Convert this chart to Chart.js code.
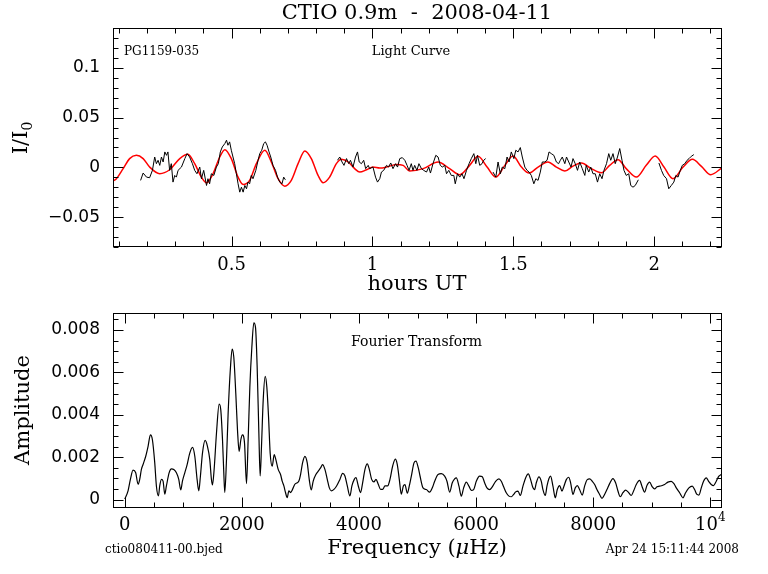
<!DOCTYPE html>
<html>
<head>
<meta charset="utf-8">
<script src="https://cdn.jsdelivr.net/npm/chart.js@4"></script>
<style>
  body { margin: 0; background: #fff; }
  canvas { position: absolute; left: 0; }
</style>
</head>
<body>
<canvas id="lightCurve" width="768" height="290" style="top:0"></canvas>
<canvas id="fourier" width="768" height="284" style="top:290px"></canvas>
<script>
// light curve (hours UT, I/I0); null = gap in the run
const lcHours = [0.177,0.186,0.198,0.209,0.219,0.227,0.233,0.239,0.245,0.251,0.257,0.263,0.269,0.274,0.280,0.286,0.292,0.298,0.304,0.310,0.322,0.334,0.342,0.351,0.361,0.369,0.377,0.387,0.393,0.401,0.411,0.416,0.422,0.428,0.437,0.446,0.453,0.460,0.467,0.476,0.482,0.487,0.493,0.499,0.505,0.511,0.517,0.523,0.529,0.535,0.541,0.547,0.553,0.558,0.564,0.570,0.576,0.586,0.594,0.600,0.607,0.614,0.620,0.626,0.633,0.639,0.647,0.656,0.663,0.671,0.679,0.685,0.691,
  0.78,
  0.876,0.884,0.892,0.899,0.908,0.916,0.922,0.931,0.940,0.947,0.953,0.961,0.969,0.976,0.985,0.990,1.002,1.011,1.018,1.026,1.032,1.040,1.050,1.057,1.065,1.073,1.082,1.089,1.097,1.106,1.115,1.123,1.130,1.138,1.144,1.150,1.158,1.165,1.174,1.182,1.192,1.200,1.206,1.215,1.225,1.233,1.241,1.248,1.257,1.263,1.271,1.280,1.289,1.294,1.302,1.310,1.318,1.325,1.334,1.343,1.351,1.360,1.367,1.373,1.381,1.389,1.395,1.402,
  1.415,
  1.428,1.438,1.446,1.454,1.461,1.470,1.478,1.485,1.493,1.502,1.509,1.517,1.525,1.532,1.541,1.549,1.556,1.564,1.573,1.580,1.588,1.596,1.603,1.612,1.620,1.627,1.635,1.644,1.653,1.661,1.667,1.674,1.683,1.689,1.697,1.705,1.712,1.720,1.728,1.736,1.745,1.754,1.759,1.768,1.775,1.783,1.791,1.799,1.807,1.815,1.822,1.831,1.839,1.846,1.854,1.862,1.870,1.878,1.886,1.893,1.901,1.910,1.917,1.925,1.933,1.944,
  1.98,
  2.017,2.026,2.034,2.044,2.052,2.061,2.070,2.077,2.085,2.093,2.100,2.109,2.117,2.124,2.132,2.141];
const lcFlux = [-0.0131,-0.0057,-0.0098,-0.0104,-0.0030,0.0104,0.0037,0.0071,0.0020,0.0104,0.0054,0.0155,0.0121,0.0155,-0.0030,0.0037,-0.0148,-0.0081,-0.0098,-0.0030,0.0003,0.0088,0.0138,0.0104,0.0037,-0.0030,-0.0064,0.0003,-0.0114,-0.0030,-0.0182,-0.0114,-0.0165,-0.0064,-0.0081,0.0003,0.0037,0.0155,0.0205,0.0239,0.0273,0.0222,0.0256,0.0172,0.0104,0.0037,-0.0064,-0.0165,-0.0249,-0.0199,-0.0249,-0.0182,-0.0215,-0.0148,-0.0165,-0.0081,-0.0114,-0.0030,0.0071,0.0138,0.0172,0.0239,0.0256,0.0222,0.0155,0.0104,0.0020,-0.0030,-0.0098,-0.0148,-0.0165,-0.0098,-0.0125,
  null,
  0.0071,0.0104,0.0054,0.0020,0.0088,0.0037,0.0071,0.0003,0.0104,0.0155,0.0054,0.0037,0.0071,-0.0013,0.0020,-0.0013,0.0003,-0.0098,-0.0148,-0.0114,-0.0047,-0.0030,0.0020,0.0003,0.0044,-0.0013,0.0037,0.0003,0.0088,0.0098,0.0071,0.0020,-0.0030,0.0037,-0.0030,0.0020,-0.0030,0.0037,-0.0013,-0.0030,-0.0047,0.0003,-0.0057,0.0037,0.0121,0.0104,0.0020,0.0003,0.0020,-0.0064,-0.0030,-0.0081,-0.0081,-0.0165,-0.0064,-0.0098,-0.0064,-0.0114,-0.0030,0.0037,0.0088,0.0138,0.0037,0.0121,0.0020,0.0037,0.0071,0.0088,
  null,
  -0.0047,-0.0098,0.0054,-0.0064,0.0003,-0.0013,0.0104,0.0054,0.0155,0.0088,0.0172,0.0155,0.0199,0.0104,0.0003,-0.0030,-0.0047,-0.0081,-0.0165,-0.0114,-0.0131,-0.0047,0.0054,0.0054,0.0071,0.0155,0.0138,0.0121,0.0054,0.0037,0.0071,0.0104,0.0037,0.0104,0.0054,0.0003,0.0088,0.0037,-0.0030,0.0054,-0.0013,-0.0081,0.0020,-0.0047,0.0003,-0.0064,-0.0064,-0.0148,-0.0064,-0.0114,-0.0030,0.0037,0.0138,0.0071,0.0138,0.0037,0.0104,0.0189,0.0071,-0.0030,-0.0081,-0.0064,-0.0182,-0.0199,-0.0182,-0.0125,
  null,
  0.0044,-0.0030,-0.0081,-0.0114,-0.0215,-0.0182,-0.0148,-0.0081,-0.0098,-0.0030,0.0020,0.0037,0.0071,0.0088,0.0111,0.0128];

// multi-sine fit (red)
const fitHours = [0.079,0.091,0.115,0.138,0.162,0.186,0.209,0.245,0.280,0.316,0.345,0.369,0.393,0.411,0.434,0.458,0.476,0.499,0.523,0.541,0.564,0.588,0.618,0.641,0.665,0.689,0.712,0.736,0.760,0.783,0.807,0.825,0.848,0.872,0.890,0.914,0.937,0.955,0.979,1.002,1.026,1.050,1.085,1.109,1.132,1.180,1.233,1.274,1.310,1.345,1.375,1.407,1.438,1.470,1.499,1.529,1.556,1.588,1.623,1.653,1.683,1.712,1.742,1.777,1.813,1.842,1.872,1.901,1.937,1.972,2.004,2.035,2.067,2.103,2.136,2.168,2.201,2.240];
const fitFlux = [-0.0138,-0.0114,-0.0013,0.0088,0.0121,0.0088,0.0003,-0.0064,-0.0024,0.0088,0.0131,0.0037,-0.0098,-0.0155,-0.0064,0.0104,0.0178,0.0088,-0.0098,-0.0172,-0.0131,0.0037,0.0172,0.0054,-0.0114,-0.0189,-0.0131,0.0037,0.0165,0.0088,-0.0081,-0.0155,-0.0098,0.0037,0.0081,0.0054,-0.0013,-0.0047,-0.0024,0.0003,-0.0007,0.0003,0.0030,0.0020,-0.0037,-0.0013,0.0054,-0.0013,-0.0074,0.0020,0.0111,0.0003,-0.0098,0.0020,0.0114,0.0003,-0.0057,0.0003,0.0054,0.0003,-0.0037,0.0013,0.0044,-0.0013,-0.0054,0.0020,0.0077,-0.0013,-0.0098,0.0020,0.0114,0.0003,-0.0114,0.0003,0.0081,0.0010,-0.0074,-0.0007];

// amplitude spectrum
const ftFreq = [0,57,97,142,188,228,256,285,313,359,399,439,473,513,541,576,598,627,655,684,712,758,798,838,883,923,957,986,1026,1066,1111,1157,1197,1236,1265,1293,1328,1373,1413,1453,1481,1499,1527,1567,1613,1641,1670,1692,1709,1738,1766,1806,1835,1863,1897,1926,1954,1983,2011,2046,2080,2108,2137,2171,2205,2234,2262,2291,2313,2336,2365,2399,2427,2456,2484,2519,2553,2581,2621,2661,2689,2718,2746,2775,2803,2832,2866,2906,2946,2974,3003,3037,3077,3117,3151,3185,3219,3265,3305,3345,3379,3419,3459,3493,3527,3573,3618,3675,3721,3761,3801,3846,3880,3920,3949,3989,4028,4063,4103,4142,4177,4217,4256,4291,4330,4370,4405,4444,4490,4530,4575,4621,4655,4689,4724,4758,4786,4826,4860,4900,4940,4974,5014,5043,5094,5151,5207,5253,5293,5350,5407,5464,5503,5549,5594,5634,5663,5708,5748,5788,5833,5879,5919,5959,6004,6061,6107,6146,6186,6232,6277,6334,6391,6431,6471,6516,6562,6602,6642,6676,6716,6755,6801,6846,6892,6932,6972,7000,7029,7074,7114,7142,7182,7211,7245,7273,7313,7353,7387,7427,7467,7501,7541,7581,7615,7655,7694,7729,7768,7814,7854,7899,7939,7985,8025,8064,8110,8150,8195,8235,8281,8337,8383,8423,8463,8508,8554,8599,8650,8690,8736,8793,8833,8878,8918,8964,9009,9049,9089,9134,9180,9219,9276,9333,9379,9419,9476,9533,9578,9635,9692,9732,9772,9806,9846,9885,9931,9971,10016,10056,10102,10147,10187];
const ftAmp = [0.00002,0.00041,0.00095,0.00139,0.00126,0.00072,0.00095,0.00142,0.00165,0.00204,0.00251,0.00305,0.00282,0.00173,0.00064,0.00017,0.00064,0.00095,0.00087,0.00025,0.00064,0.00126,0.00145,0.00142,0.00126,0.00095,0.00045,0.00087,0.00126,0.00165,0.00219,0.00246,0.00204,0.00095,0.00041,0.00111,0.00219,0.00279,0.00251,0.00188,0.00095,0.00069,0.00142,0.00313,0.00450,0.00422,0.00282,0.00126,0.00033,0.00188,0.00406,0.00624,0.00710,0.00671,0.00500,0.00328,0.00227,0.00282,0.00305,0.00266,0.00075,0.00282,0.00531,0.00718,0.00834,0.00811,0.00624,0.00313,0.00111,0.00251,0.00469,0.00581,0.00531,0.00391,0.00219,0.00157,0.00212,0.00188,0.00142,0.00118,0.00087,0.00064,0.00033,0.00009,0.00041,0.00033,0.00048,0.00072,0.00079,0.00087,0.00118,0.00173,0.00204,0.00173,0.00095,0.00045,0.00087,0.00118,0.00134,0.00149,0.00165,0.00142,0.00095,0.00056,0.00041,0.00048,0.00064,0.00095,0.00123,0.00111,0.00064,0.00017,0.00064,0.00095,0.00103,0.00064,0.00033,0.00079,0.00142,0.00168,0.00142,0.00095,0.00083,0.00095,0.00072,0.00048,0.00048,0.00064,0.00064,0.00095,0.00157,0.00191,0.00165,0.00095,0.00025,0.00064,0.00070,0.00030,0.00064,0.00118,0.00173,0.00181,0.00149,0.00111,0.00055,0.00047,0.00035,0.00055,0.00086,0.00118,0.00122,0.00110,0.00086,0.00035,0.00079,0.00097,0.00102,0.00063,0.00016,0.00055,0.00082,0.00063,0.00043,0.00047,0.00086,0.00110,0.00107,0.00079,0.00055,0.00047,0.00060,0.00086,0.00097,0.00086,0.00060,0.00032,0.00016,0.00013,0.00024,0.00036,0.00040,0.00019,0.00063,0.00102,0.00121,0.00094,0.00055,0.00047,0.00079,0.00107,0.00086,0.00047,0.00019,0.00063,0.00099,0.00110,0.00063,0.00008,0.00047,0.00066,0.00040,0.00063,0.00094,0.00105,0.00079,0.00024,0.00055,0.00066,0.00047,0.00021,0.00063,0.00094,0.00097,0.00086,0.00071,0.00047,0.00024,0.00005,0.00024,0.00047,0.00075,0.00099,0.00079,0.00040,0.00013,0.00032,0.00044,0.00035,0.00019,0.00040,0.00071,0.00090,0.00063,0.00035,0.00066,0.00082,0.00060,0.00050,0.00060,0.00063,0.00066,0.00071,0.00082,0.00086,0.00075,0.00055,0.00032,0.00008,0.00032,0.00055,0.00063,0.00047,0.00024,0.00021,0.00055,0.00086,0.00102,0.00086,0.00071,0.00066,0.00086,0.00110,0.00118];

// axis ticks
const lcXTicks = [0.5, 1, 1.5, 2];
const lcXTickLabels = ['0.5', '1', '1.5', '2'];
const lcYTicks = [-0.05, 0, 0.05, 0.1];
const lcYTickLabels = ['\u22120.05', '0', '0.05', '0.1'];
const ftXTicks = [0, 2000, 4000, 6000, 8000, 10000];
const ftXTickLabels = ['0', '2000', '4000', '6000', '8000', '10^4'];
const ftYTicks = [0, 0.002, 0.004, 0.006, 0.008];
const ftYTickLabels = ['0', '0.002', '0.004', '0.006', '0.008'];

const SERIF = '"DejaVu Serif", serif';
const SANS = '"DejaVu Sans", sans-serif';

function eachTick(scale, step, majorStep, fn) {
    const n0 = Math.ceil(scale.min / step - 1e-9);
    const n1 = Math.floor(scale.max / step + 1e-9);
    for (let n = n0; n <= n1; n++) {
        const v = n * step;
        const r = v / majorStep;
        fn(v, Math.abs(r - Math.round(r)) < 1e-6);
    }
}

// draw a row of text pieces [text, font, dy]
function richText(ctx, parts, x, y, align) {
    let w = 0;
    parts.forEach(p => { ctx.font = p[1]; w += ctx.measureText(p[0]).width; });
    let cx = align === 'center' ? x - w / 2 : (align === 'right' ? x - w : x);
    ctx.textAlign = 'left';
    ctx.textBaseline = 'middle';
    parts.forEach(p => {
        ctx.font = p[1];
        ctx.fillText(p[0], cx, y + (p[2] || 0));
        cx += ctx.measureText(p[0]).width;
    });
}

// PGPLOT style box: inward ticks on four sides, labels, titles
function pgFrame(cfg) {
    return {
        id: 'pgFrame',
        afterDraw(chart) {
            const { ctx, chartArea: a } = chart;
            const xs = chart.scales.x, ys = chart.scales.y;
            const L = Math.round(a.left) + 0.5, R = Math.round(a.right) - 0.5;
            const T = Math.round(a.top) + 0.5, B = Math.round(a.bottom) - 0.5;
            ctx.save();
            ctx.strokeStyle = '#000';
            ctx.lineWidth = 1;
            ctx.strokeRect(L, T, R - L, B - T);
            ctx.beginPath();
            eachTick(xs, cfg.xMinor, cfg.xMajor, (v, major) => {
                const p = Math.round(xs.getPixelForValue(v)) + 0.5;
                const len = major ? 10 : 5;
                ctx.moveTo(p, B); ctx.lineTo(p, B - len);
                ctx.moveTo(p, T); ctx.lineTo(p, T + len);
            });
            eachTick(ys, cfg.yMinor, cfg.yMajor, (v, major) => {
                const p = Math.round(ys.getPixelForValue(v)) + 0.5;
                const len = major ? 10 : 5;
                ctx.moveTo(L, p); ctx.lineTo(L + len, p);
                ctx.moveTo(R, p); ctx.lineTo(R - len, p);
            });
            ctx.stroke();

            ctx.fillStyle = '#000';
            cfg.xTicks.forEach((v, i) => {
                const lab = cfg.xLabels[i].split('^');
                const parts = [[lab[0], '18px ' + SERIF]];
                if (lab[1]) parts.push([lab[1], '12px ' + SERIF, -7]);
                richText(ctx, parts, xs.getPixelForValue(v), cfg.xLabelY, 'center');
            });
            cfg.yTicks.forEach((v, i) => {
                richText(ctx, [[cfg.yLabels[i], '17px ' + SANS]], cfg.yLabelX, ys.getPixelForValue(v), 'right');
            });
            cfg.texts.forEach(t => {
                if (t.rotate) {
                    ctx.save();
                    ctx.translate(t.x, t.y);
                    ctx.rotate(-Math.PI / 2);
                    richText(ctx, t.parts, 0, 0, 'center');
                    ctx.restore();
                } else {
                    richText(ctx, t.parts, t.x, t.y, t.align || 'center');
                }
            });
            ctx.restore();
        }
    };
}

function xy(xv, yv) {
    return xv.map((v, i) => ({ x: v, y: yv[i] }));
}

const common = {
    responsive: false,
    animation: false,
    events: [],
    plugins: { legend: { display: false }, tooltip: { enabled: false } },
    elements: { point: { radius: 0 } }
};

new Chart(document.getElementById('lightCurve'), {
    type: 'scatter',
    data: {
        datasets: [{
            data: xy(lcHours, lcFlux),
            showLine: true,
            spanGaps: false,
            borderColor: '#000',
            borderWidth: 1
        }, {
            data: xy(fitHours, fitFlux),
            showLine: true,
            borderColor: '#ff0000',
            borderWidth: 1.5,
            cubicInterpolationMode: 'monotone'
        }]
    },
    options: Object.assign({}, common, {
        layout: { padding: { left: 113, right: 46, top: 28, bottom: 43 } },
        scales: {
            x: { type: 'linear', min: 0.079, max: 2.241, display: false },
            y: { type: 'linear', min: -0.08, max: 0.14, display: false }
        }
    }),
    plugins: [pgFrame({
        xMinor: 0.1, xMajor: 0.5, yMinor: 0.01, yMajor: 0.05,
        xTicks: lcXTicks, xLabels: lcXTickLabels, xLabelY: 265,
        yTicks: lcYTicks, yLabels: lcYTickLabels, yLabelX: 100,
        texts: [
            { parts: [['CTIO 0.9m  -  2008-04-11', '21px ' + SERIF]], x: 417, y: 14 },
            { parts: [['hours UT', '21px ' + SERIF]], x: 417, y: 285 },
            { parts: [['I/I', '21px ' + SERIF], ['0', '14px ' + SERIF, 6]], x: 22, y: 138, rotate: true },
            { parts: [['PG1159-035', '12px ' + SERIF]], x: 124, y: 52, align: 'left' },
            { parts: [['Light Curve', '13px ' + SERIF]], x: 411, y: 52 }
        ]
    })]
});

new Chart(document.getElementById('fourier'), {
    type: 'scatter',
    data: {
        datasets: [{
            data: xy(ftFreq, ftAmp),
            showLine: true,
            borderColor: '#000',
            borderWidth: 1.2,
            cubicInterpolationMode: 'monotone'
        }]
    },
    options: Object.assign({}, common, {
        layout: { padding: { left: 113, right: 46, top: 23, bottom: 66 } },
        scales: {
            x: { type: 'linear', min: -200, max: 10200, display: false },
            y: { type: 'linear', min: -0.0004, max: 0.0088, display: false }
        }
    }),
    plugins: [pgFrame({
        xMinor: 500, xMajor: 2000, yMinor: 0.0005, yMajor: 0.002,
        xTicks: ftXTicks, xLabels: ftXTickLabels, xLabelY: 235,
        yTicks: ftYTicks, yLabels: ftYTickLabels, yLabelX: 100,
        texts: [
            { parts: [['Fourier Transform', '14px ' + SERIF]], x: 351, y: 52, align: 'left' },
            { parts: [['Amplitude', '21px ' + SERIF]], x: 24, y: 120, rotate: true },
            { parts: [['Frequency (', '21px ' + SERIF], ['\u03bc', 'italic 21px ' + SERIF], ['Hz)', '21px ' + SERIF]], x: 417, y: 259 },
            { parts: [['ctio080411-00.bjed', '12px ' + SERIF]], x: 105, y: 260, align: 'left' },
            { parts: [['Apr 24 15:11:44 2008', '12px ' + SERIF]], x: 739, y: 260, align: 'right' }
        ]
    })]
});
</script>
</body>
</html>
